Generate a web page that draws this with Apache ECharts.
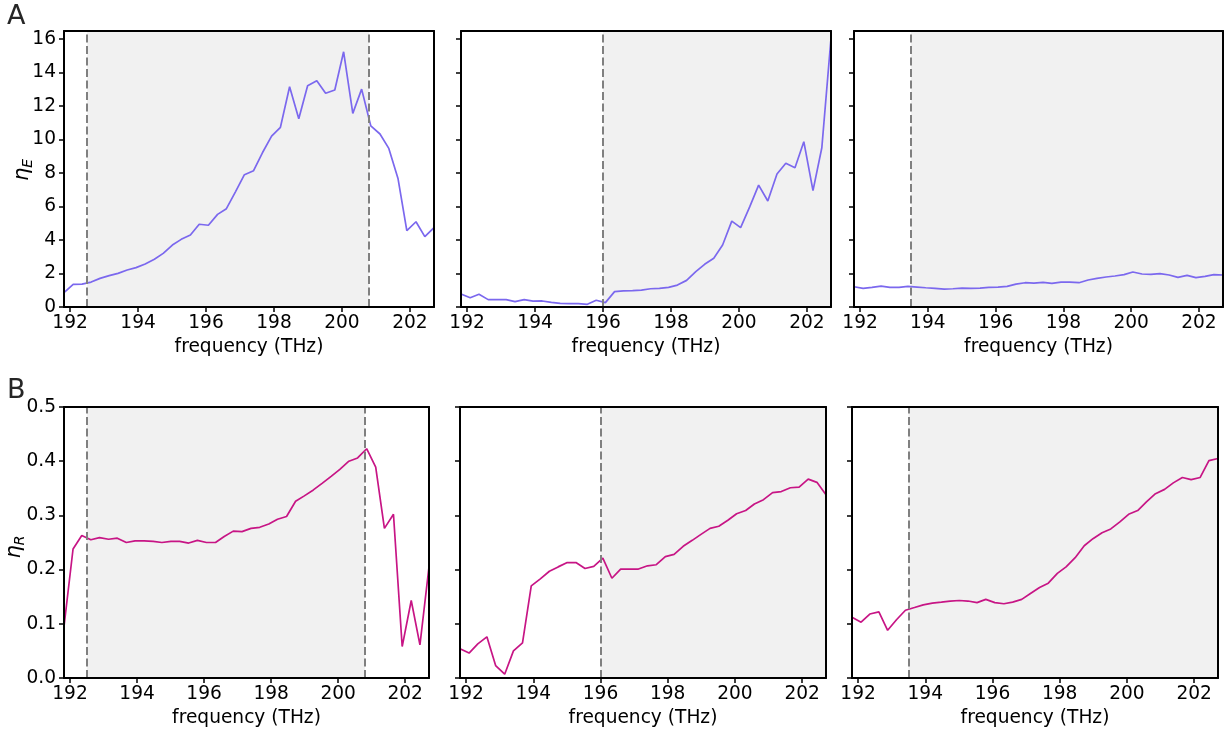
<!DOCTYPE html>
<html><head><meta charset="utf-8">
<script src="https://cdn.jsdelivr.net/npm/echarts@6/dist/echarts.min.js"></script>
<style>html,body{margin:0;padding:0;background:#fff}#c{width:1229px;height:731px}</style>
</head><body><div id="c"></div>
<script>
const freq = [191.82,192.09,192.35,192.62,192.88,193.15,193.41,193.68,193.94,194.21,194.48,194.74,195.01,195.27,195.54,195.80,196.07,196.34,196.60,196.87,197.13,197.40,197.66,197.93,198.19,198.46,198.73,198.99,199.26,199.52,199.79,200.05,200.32,200.58,200.85,201.12,201.38,201.65,201.91,202.18,202.44,202.71];
const etaE1 = [0.86,1.35,1.37,1.49,1.71,1.87,2.01,2.21,2.35,2.57,2.85,3.20,3.70,4.04,4.30,4.94,4.88,5.53,5.87,6.89,7.90,8.14,9.21,10.20,10.73,13.15,11.24,13.21,13.51,12.76,12.96,15.24,11.56,13.01,10.81,10.33,9.47,7.68,4.56,5.09,4.20,4.74];
const etaE2 = [0.78,0.55,0.76,0.44,0.44,0.44,0.32,0.44,0.35,0.36,0.28,0.22,0.20,0.20,0.16,0.40,0.26,0.92,0.96,0.98,1.01,1.09,1.11,1.17,1.31,1.59,2.11,2.55,2.91,3.70,5.13,4.74,5.99,7.28,6.33,7.94,8.58,8.32,9.87,6.95,9.51,16.04];
const etaE3 = [1.21,1.11,1.17,1.25,1.17,1.17,1.23,1.19,1.15,1.11,1.07,1.09,1.13,1.11,1.13,1.17,1.19,1.23,1.37,1.45,1.43,1.47,1.41,1.49,1.49,1.45,1.61,1.71,1.79,1.85,1.93,2.09,1.97,1.95,1.99,1.91,1.77,1.89,1.75,1.83,1.93,1.91];
const etaR1 = [0.095,0.238,0.263,0.255,0.259,0.256,0.258,0.250,0.253,0.253,0.252,0.250,0.252,0.252,0.249,0.254,0.250,0.250,0.261,0.271,0.270,0.276,0.278,0.284,0.293,0.298,0.326,0.336,0.347,0.359,0.372,0.385,0.400,0.406,0.423,0.389,0.276,0.302,0.058,0.143,0.061,0.205];
const etaR2 = [0.054,0.046,0.063,0.076,0.023,0.007,0.050,0.065,0.170,0.183,0.197,0.205,0.213,0.213,0.202,0.206,0.221,0.184,0.201,0.201,0.201,0.207,0.209,0.224,0.228,0.243,0.254,0.265,0.276,0.280,0.291,0.303,0.309,0.321,0.329,0.342,0.344,0.351,0.352,0.367,0.361,0.338];
const etaR3 = [0.112,0.103,0.118,0.122,0.088,0.108,0.125,0.130,0.135,0.138,0.140,0.142,0.143,0.142,0.139,0.145,0.139,0.137,0.140,0.145,0.156,0.167,0.175,0.193,0.205,0.222,0.244,0.257,0.268,0.275,0.288,0.302,0.309,0.325,0.340,0.348,0.360,0.370,0.366,0.370,0.401,0.405];
const xTicks = [192,194,196,198,200,202];
const yTicksE = [0,2,4,6,8,10,12,14,16];
const yTicksR = [0,0.1,0.2,0.3,0.4,0.5];
const shadeStart = [192.5, 196.0, 193.5];
const shadeEnd = [200.8, null, null];
const xLabel = 'frequency (THz)';

const X_MIN = 191.82, X_MAX = 202.71;
const FONT = 'DejaVu Sans';
const FS = 18.6;
const panels = [
  {data: etaE1, row: 0, col: 0}, {data: etaE2, row: 0, col: 1}, {data: etaE3, row: 0, col: 2},
  {data: etaR1, row: 1, col: 0}, {data: etaR2, row: 1, col: 1}, {data: etaR3, row: 1, col: 2}
];
const gridBoxes = [
  {left: 64, top: 31, width: 370, height: 276},
  {left: 461, top: 31, width: 370, height: 276},
  {left: 854, top: 31, width: 369, height: 276},
  {left: 64, top: 407, width: 365, height: 271},
  {left: 460, top: 407, width: 366, height: 271},
  {left: 852, top: 407, width: 366, height: 271}
];
const rowCfg = [
  {yMax: 16.48, yTicks: yTicksE, color: '#7b68ee', fmt: v => String(v)},
  {yMax: 0.5, yTicks: yTicksR, color: '#c71585', fmt: v => v.toFixed(1)}
];
const frameLine = {show: true, onZero: false, lineStyle: {color: '#000', width: 2}};

const grid = [], xAxis = [], yAxis = [], series = [];
panels.forEach((p, g) => {
  const rc = rowCfg[p.row];
  grid.push(Object.assign({containLabel: false}, gridBoxes[g]));
  xAxis.push({
    gridIndex: g, type: 'value', min: X_MIN, max: X_MAX, position: 'bottom', z: 10,
    axisLine: frameLine,
    axisTick: {show: true, inside: false, length: 5, customValues: xTicks, lineStyle: {color: '#000', width: 1.5}},
    axisLabel: {show: true, customValues: xTicks, fontSize: FS, color: '#000', fontFamily: FONT, margin: 7},
    splitLine: {show: false},
    name: xLabel, nameLocation: 'middle', nameGap: 31,
    nameTextStyle: {fontSize: FS, color: '#000', fontFamily: FONT}
  });
  xAxis.push({
    gridIndex: g, type: 'value', min: X_MIN, max: X_MAX, position: 'top', z: 10,
    axisLine: frameLine, axisTick: {show: false}, axisLabel: {show: false}, splitLine: {show: false}
  });
  yAxis.push({
    gridIndex: g, type: 'value', min: 0, max: rc.yMax, position: 'left', z: 10,
    axisLine: frameLine,
    axisTick: {show: true, inside: false, length: 5, customValues: rc.yTicks, lineStyle: {color: '#000', width: 1.5}},
    axisLabel: {show: p.col === 0, customValues: rc.yTicks, fontSize: FS, color: '#000', fontFamily: FONT, margin: 8, formatter: rc.fmt},
    splitLine: {show: false}
  });
  yAxis.push({
    gridIndex: g, type: 'value', min: 0, max: rc.yMax, position: 'right', z: 10,
    axisLine: frameLine, axisTick: {show: false}, axisLabel: {show: false}, splitLine: {show: false}
  });
  const s = shadeStart[p.col], e = shadeEnd[p.col];
  const mlData = [{xAxis: s}];
  if (e !== null) mlData.push({xAxis: e});
  series.push({
    type: 'line', xAxisIndex: 2 * g, yAxisIndex: 2 * g,
    data: freq.map((f, i) => [f, p.data[i]]),
    showSymbol: false, symbol: 'none', clip: true,
    lineStyle: {color: rc.color, width: 1.7}, itemStyle: {color: rc.color},
    animation: false, z: 3,
    markArea: {silent: true, itemStyle: {color: '#f1f1f1'},
      data: [[{xAxis: s}, {xAxis: e === null ? X_MAX : e}]]},
    markLine: {silent: true, symbol: ['none', 'none'], label: {show: false},
      lineStyle: {color: '#808080', width: 2, type: [8, 3.5]},
      data: mlData, animation: false}
  });
});

const etaRich = {
  a: {fontSize: 21, fontStyle: 'italic', fontFamily: FONT, fill: '#000', lineHeight: 24},
  b: {fontSize: 14, fontStyle: 'italic', fontFamily: FONT, fill: '#000', verticalAlign: 'bottom', lineHeight: 14}
};
const chart = echarts.init(document.getElementById('c'), null, {renderer: 'canvas'});
chart.setOption({
  backgroundColor: '#fff',
  animation: false,
  grid, xAxis, yAxis, series,
  graphic: [
    {type: 'text', left: 7, top: 3, style: {text: 'A', fontSize: 27, fontFamily: FONT, fill: '#262626'}},
    {type: 'text', left: 7, top: 377, style: {text: 'B', fontSize: 27, fontFamily: FONT, fill: '#262626'}},
    {type: 'text', x: 23, y: 170, rotation: Math.PI / 2,
      style: {text: '{a|η}{b|E}', rich: etaRich, align: 'center', verticalAlign: 'middle'}},
    {type: 'text', x: 15, y: 547, rotation: Math.PI / 2,
      style: {text: '{a|η}{b|R}', rich: etaRich, align: 'center', verticalAlign: 'middle'}}
  ]
});
</script></body></html>
